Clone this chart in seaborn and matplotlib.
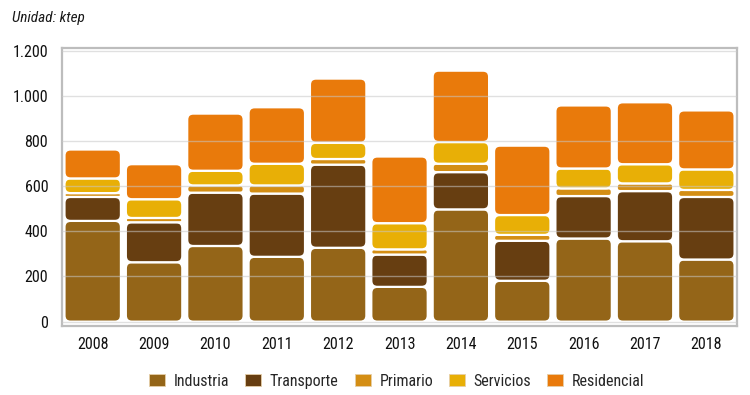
import pandas as pd
import seaborn as sns
import matplotlib.pyplot as plt
from matplotlib.patches import FancyBboxPatch, Patch
from matplotlib.ticker import FuncFormatter

# Data (ktep)
years = ['2008', '2009', '2010', '2011', '2012', '2013', '2014', '2015', '2016', '2017', '2018']
industria = [446, 263, 335, 287, 327, 154, 497, 181, 368, 356, 275]
transporte = [106, 177, 236, 280, 368, 143, 165, 177, 188, 222, 277]
primario = [17, 19, 32, 36, 25, 23, 37, 26, 34, 34, 31]
servicios = [65, 83, 65, 96, 72, 116, 96, 88, 88, 85, 91]
residencial = [128, 155, 253, 250, 284, 295, 316, 307, 279, 274, 261]

series_names = ['Industria', 'Transporte', 'Primario', 'Servicios', 'Residencial']
series_values = [industria, transporte, primario, servicios, residencial]
colors = ['#946518', '#673e11', '#d48e14', '#e8af06', '#e97a0b']

sns.set_style('white')
plt.rcParams['font.family'] = ['Liberation Sans Narrow', 'Roboto Condensed', 'DejaVu Sans']

fig = plt.figure(figsize=(7.5, 3.95), dpi=100)
ax = fig.add_axes([0.0827, 0.1754, 0.9, 0.7023])

# Stacked bars: one barplot per series, bottom = running total
bottom = [0] * len(years)
for name, vals, col in zip(series_names, series_values, colors):
    df = pd.DataFrame({'year': years, 'value': vals})
    sns.barplot(data=df, x='year', y='value', order=years, color=col,
                saturation=1, width=0.92, bottom=bottom, ax=ax)
    bottom = [b + v for b, v in zip(bottom, vals)]

ax.set_xlim(-0.5, 10.5)
ax.set_ylim(-18, 1210)
fig.canvas.draw()

# swap the plain rectangles for rounded ones
bb = ax.get_window_extent()
xu = 11 / bb.width          # x data units per pixel
yu = 1228 / bb.height       # y data units per pixel
aspect = yu / xu
for p in list(ax.patches):
    x, y, w, h = p.get_x(), p.get_y(), p.get_width(), p.get_height()
    fc = p.get_facecolor()
    p.remove()
    r_px = min(6, (h / yu) / 2 - 0.5, (w / xu) / 2)
    r_px = max(r_px, 0.5)
    fb = FancyBboxPatch((x, y), w, h,
                        boxstyle=f'round,pad=0,rounding_size={r_px * xu}',
                        mutation_aspect=aspect, facecolor=fc,
                        edgecolor='white', linewidth=1.6, zorder=1)
    ax.add_patch(fb)

# grid drawn over the bars, faint
ax.set_axisbelow(False)
ax.yaxis.grid(True, color='#c8c8c8', alpha=0.55, linewidth=1)
ax.xaxis.grid(False)
ax.set_yticks(range(0, 1201, 200))
ax.yaxis.set_major_formatter(FuncFormatter(lambda v, pos: f'{v:,.0f}'.replace(',', '.')))
ax.tick_params(axis='both', length=0, labelsize=11.5, colors='#111111')
ax.tick_params(axis='y', pad=10)
ax.tick_params(axis='x', pad=8)

for s in ax.spines.values():
    s.set_visible(True)
    s.set_color('#bdbdbd')
    s.set_linewidth(1.6)

ax.set_xlabel('')
ax.set_ylabel('')

fig.text(0.016, 0.945, 'Unidad: ktep', style='italic', fontsize=11, color='#1a1a1a')

handles = [Patch(facecolor=c, edgecolor='#e6cfa8', linewidth=0.6) for c in colors]
fig.legend(handles, series_names, loc='center', bbox_to_anchor=(0.529, 0.035), ncol=5,
           frameon=False, fontsize=11.5, handlelength=1.0, handleheight=0.7,
           columnspacing=1.0, handletextpad=0.55)

plt.savefig('out.png', dpi=100)
